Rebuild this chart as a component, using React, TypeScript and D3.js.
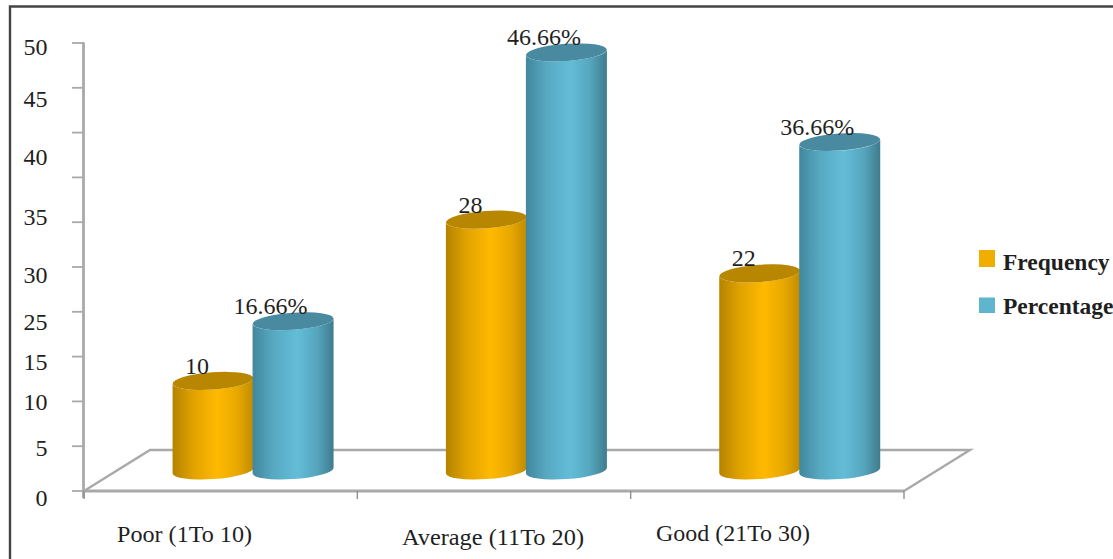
import React from "react";
import * as d3 from "d3";

// Chart values
const categories = ["Poor (1To 10)", "Average (11To 20)", "Good (21To 30)"];
const seriesNames = ["Frequency", "Percentage"];
const frequencyValues = [10, 28, 22];
const percentageValues = [16.66, 46.66, 36.66];
const frequencyLabels = ["10", "28", "22"];
const percentageLabels = ["16.66%", "46.66%", "36.66%"];
const axisTicks = [0, 5, 10, 15, 20, 25, 30, 35, 40, 45, 50];
const axisTickLabels = ["50", "45", "40", "35", "30", "25", "15", "10", "5", "0"];

// Layout
const W = 1113;
const H = 559;
const SERIF = "'Liberation Serif', serif";
const INK = "#1f1f1f";
const GRID = "#a9a9a9";
const tickLabelMidY = [47, 99, 157, 217, 275, 322, 362, 402, 448, 498];
const categoryBoxes = [
  { x: 117, w: 135, y: 542 },
  { x: 402, w: 182, y: 545 },
  { x: 656, w: 154, y: 541 },
];

const x0 = d3.scaleBand<string>().domain(categories).range([84, 904]);
const y = d3.scaleLinear().domain([0, 50]).range([491, 43]);
const DEPTH_X = 66;
const DEPTH_Y = 41;
const band = x0.bandwidth();
const x1 = d3
  .scaleBand<string>()
  .domain(seriesNames)
  .range([band / 2 + DEPTH_X / 2 - 80.6, band / 2 + DEPTH_X / 2 + 79.4]);

const RX = 40.5;
const RY = 8.6;
const TILT = -4;
const RISE = 2.8;
const LIFT = DEPTH_Y / 2;

const styles = [
  { grad: "cylOrange", top: "#b98600", swatch: "#f0ae00", labelDx: -16 },
  { grad: "cylTeal", top: "#4a8aa0", swatch: "#5fb5ce", labelDx: -22.5 },
];

function Cylinder({ cx, value, idx }: { cx: number; value: number; idx: number }) {
  const yTop = y(value) - LIFT;
  const yBase = y(0) - LIFT;
  const l = cx - RX;
  const r = cx + RX;
  const body =
    `M${l},${yTop + RISE}L${l},${yBase + RISE}` +
    `A${RX},${RY} ${TILT} 0 0 ${r},${yBase - RISE}` +
    `L${r},${yTop - RISE}` +
    `A${RX},${RY} ${TILT} 0 1 ${l},${yTop + RISE}Z`;
  return (
    <g>
      <path d={body} fill={`url(#${styles[idx].grad})`} />
      <ellipse
        cx={cx}
        cy={yTop}
        rx={RX}
        ry={RY}
        fill={styles[idx].top}
        transform={`rotate(${TILT} ${cx} ${yTop})`}
      />
    </g>
  );
}

export default function App() {
  const sets = [frequencyValues, percentageValues];
  const texts = [frequencyLabels, percentageLabels];
  const front = y(0);
  const back = front - DEPTH_Y;
  const [xa, xb] = x0.range();
  const separators = [xa, ...categories.map((c) => (x0(c) as number) + band)];

  return (
    <div style={{ position: "fixed", left: 0, top: 0 }}>
      <svg width={W} height={H} style={{ display: "block", background: "#fff" }} fontFamily={SERIF}>
        <defs>
          <linearGradient id="cylOrange" x1="0" x2="1" y1="0" y2="0">
            <stop offset="0" stopColor="#b58300" />
            <stop offset="0.25" stopColor="#e0a200" />
            <stop offset="0.55" stopColor="#ffb900" />
            <stop offset="0.8" stopColor="#e8a800" />
            <stop offset="1" stopColor="#c08b00" />
          </linearGradient>
          <linearGradient id="cylTeal" x1="0" x2="1" y1="0" y2="0">
            <stop offset="0" stopColor="#41879d" />
            <stop offset="0.25" stopColor="#57a8c1" />
            <stop offset="0.55" stopColor="#63bdd8" />
            <stop offset="0.8" stopColor="#55a5bd" />
            <stop offset="1" stopColor="#3f7b8d" />
          </linearGradient>
        </defs>

        {/* Frame on the top and left edges */}
        <path d={`M10,${H}V6.5H${W}`} fill="none" stroke="#444" strokeWidth={2.4} />

        {/* Floor of the 3D plot */}
        <path
          d={`M${xa},${front}L${xa + DEPTH_X},${back}H${xb + DEPTH_X}L${xb},${front}`}
          fill="none"
          stroke={GRID}
          strokeWidth={2.4}
        />

        {/* Value axis */}
        <line x1={83.5} x2={83.5} y1={y(50) - 0.5} y2={front + 7} stroke={GRID} strokeWidth={2.8} />
        {axisTicks.map((t) => (
          <line key={t} x1={72} x2={84} y1={y(t)} y2={y(t)} stroke={GRID} strokeWidth={1.8} />
        ))}
        {axisTickLabels.map((t, i) => (
          <text key={t} x={47.5} y={tickLabelMidY[i]} dy="0.33em" textAnchor="end" fontSize={24} fill={INK}>
            {t}
          </text>
        ))}

        {/* Category axis */}
        <line x1={xa} x2={xb} y1={front} y2={front} stroke={GRID} strokeWidth={2.8} />
        {separators.map((s) => (
          <line key={s} x1={s} x2={s} y1={front} y2={front + 8} stroke="#8f8f8f" strokeWidth={1.4} />
        ))}
        {categories.map((c, i) => (
          <text
            key={c}
            x={categoryBoxes[i].x}
            y={categoryBoxes[i].y}
            fontSize={24}
            fill={INK}
            textLength={categoryBoxes[i].w}
            lengthAdjust="spacingAndGlyphs"
          >
            {c}
          </text>
        ))}

        {/* Cylinders, with the percentage series in front */}
        {seriesNames.map((s, si) =>
          categories.map((c, ci) => (
            <Cylinder
              key={s + c}
              cx={(x0(c) as number) + (x1(s) as number) + x1.bandwidth() / 2}
              value={sets[si][ci]}
              idx={si}
            />
          ))
        )}

        {/* Value labels */}
        {seriesNames.map((s, si) =>
          categories.map((c, ci) => (
            <text
              key={s + c}
              x={(x0(c) as number) + (x1(s) as number) + x1.bandwidth() / 2 + styles[si].labelDx}
              y={y(sets[si][ci]) - LIFT - 7}
              textAnchor="middle"
              fontSize={24}
              fill={INK}
            >
              {texts[si][ci]}
            </text>
          ))
        )}

        {/* Legend */}
        {seriesNames.map((s, i) => (
          <g key={s}>
            <rect x={979} y={250 + i * 47.5} width={16} height={i === 0 ? 17 : 15.5} fill={styles[i].swatch} />
            <text x={1003} y={270 + i * 44} fontSize={23.5} fontWeight="bold" fill={INK}>
              {s}
            </text>
          </g>
        ))}
      </svg>
    </div>
  );
}
